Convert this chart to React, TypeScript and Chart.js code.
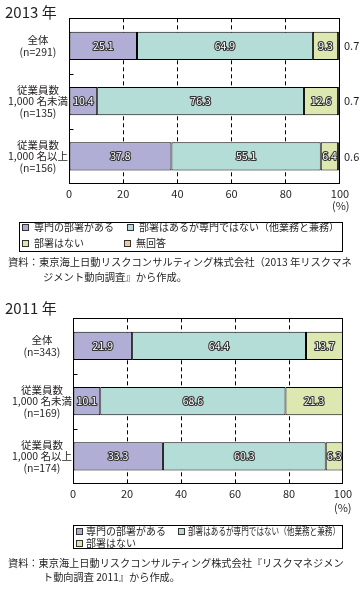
import React, { useEffect, useRef } from 'react';
import { Chart, registerables } from 'chart.js';

Chart.register(...registerables);

const FONT = "'Noto Sans CJK JP', 'Noto Sans', sans-serif";

// ---- data ----
const seriesNames = ['専門の部署がある', '部署はあるが専門ではない（他業務と兼務）', '部署はない', '無回答'];
const seriesColors = ['#b1aed6', '#b3ddd6', '#dde8b0', '#f9c88e'];
const xTicks = [0, 20, 40, 60, 80, 100];

const categories2013 = [
  ['全体', '(n=291)'],
  ['従業員数', '1,000 名未満', '(n=135)'],
  ['従業員数', '1,000 名以上', '(n=156)'],
];
const senmon2013 = [25.1, 10.4, 37.8];
const kenmu2013 = [64.9, 76.3, 55.1];
const nashi2013 = [9.3, 12.6, 6.4];
const mukaitou2013 = [0.7, 0.7, 0.6];

const categories2011 = [
  ['全体', '(n=343)'],
  ['従業員数', '1,000 名未満', '(n=169)'],
  ['従業員数', '1,000 名以上', '(n=174)'],
];
const senmon2011 = [21.9, 10.1, 33.3];
const kenmu2011 = [64.4, 68.6, 60.3];
const nashi2011 = [13.7, 21.3, 6.3];

type BarProps = {
  labels: string[][];
  series: number[][];
  top: number;
  height: number;
  padTop: number;
  padRight: number;
  yWidth: number;
  xHeight: number;
  outsideIndex: number;
};

function StackedBar(props: BarProps) {
  const ref = useRef<HTMLCanvasElement | null>(null);
  useEffect(() => {
    if (!ref.current) return;
    const { labels, series, padTop, padRight, yWidth, xHeight, outsideIndex } = props;

    const framePlugin = {
      id: 'frame',
      afterDatasetsDraw(chart: any) {
        const { ctx, chartArea } = chart;
        const l = Math.round(chartArea.left) + 0.5;
        const t = Math.round(chartArea.top) + 0.5;
        const r = Math.round(chartArea.right) - 0.5;
        const b = Math.round(chartArea.bottom) - 0.5;
        ctx.save();
        ctx.strokeStyle = '#000';
        ctx.lineWidth = 1;
        ctx.strokeRect(l, t, r - l, b - t);
        const yScale = chart.scales.y;
        ctx.beginPath();
        for (let i = 1; i < labels.length; i++) {
          const y = Math.round((yScale.getPixelForValue(i - 1) + yScale.getPixelForValue(i)) / 2) + 0.5;
          ctx.moveTo(l, y);
          ctx.lineTo(l + 4, y);
        }
        ctx.stroke();
        ctx.restore();
      },
    };

    const labelPlugin = {
      id: 'vals',
      afterDatasetsDraw(chart: any) {
        const ctx = chart.ctx;
        ctx.save();
        ctx.textBaseline = 'middle';
        chart.data.datasets.forEach((ds: any, di: number) => {
          const meta = chart.getDatasetMeta(di);
          meta.data.forEach((el: any, i: number) => {
            const v = ds.data[i];
            const txt = v.toFixed(1);
            if (di === outsideIndex) {
              ctx.font = `11px ${FONT}`;
              ctx.textAlign = 'left';
              ctx.fillStyle = '#231f20';
              ctx.fillText(txt, chart.chartArea.right + 4, el.y);
            } else {
              ctx.font = `10.5px ${FONT}`;
              ctx.textAlign = 'center';
              const x = (el.x + el.base) / 2;
              ctx.lineJoin = 'round';
              ctx.lineWidth = 2.2;
              ctx.strokeStyle = '#333';
              ctx.strokeText(txt, x, el.y);
              ctx.fillStyle = '#fff';
              ctx.fillText(txt, x, el.y);
            }
          });
        });
        ctx.restore();
      },
    };

    const chart = new Chart(ref.current, {
      type: 'bar',
      data: {
        labels: labels as any,
        datasets: series.map((d, i) => ({
          label: seriesNames[i],
          data: d,
          backgroundColor: seriesColors[i],
          borderColor: '#000',
          borderWidth: 1,
          borderSkipped: false,
          barPercentage: 0.51,
          categoryPercentage: 1,
        })),
      },
      options: {
        indexAxis: 'y',
        responsive: false,
        animation: false,
        layout: { padding: { top: padTop, right: padRight, left: 0, bottom: 0 } },
        plugins: { legend: { display: false }, tooltip: { enabled: false } },
        scales: {
          x: {
            stacked: true,
            min: 0,
            max: 100,
            afterBuildTicks: (s: any) => {
              s.ticks = xTicks.map((v) => ({ value: v }));
            },
            afterFit: (s: any) => {
              s.height = xHeight;
            },
            grid: {
              color: (c: any) =>
                c.tick && (c.tick.value === 0 || c.tick.value === 100) ? 'rgba(0,0,0,0)' : '#000',
              lineWidth: 1,
              drawTicks: false,
            },
            border: { display: false, dash: [4, 3] },
            ticks: { color: '#231f20', font: { family: FONT, size: 11 }, padding: 3, maxRotation: 0 },
          },
          y: {
            stacked: true,
            grid: { display: false, drawTicks: false },
            border: { display: false },
            afterFit: (s: any) => {
              s.width = yWidth;
            },
            ticks: {
              color: '#231f20',
              font: { family: FONT, size: 10.5, lineHeight: 1.1 },
              crossAlign: 'center',
              padding: 1,
            },
          },
        },
      } as any,
      plugins: [framePlugin, labelPlugin],
    });
    return () => chart.destroy();
  }, []);
  return (
    <canvas
      ref={ref}
      width={361}
      height={props.height}
      style={{ position: 'absolute', left: 0, top: props.top, width: 361, height: props.height }}
    />
  );
}

function Txt({ x, y, size, children, scaleX }: any) {
  return (
    <div
      style={{
        position: 'absolute',
        left: x,
        top: y - 8,
        height: 16,
        lineHeight: '16px',
        fontSize: size,
        whiteSpace: 'nowrap',
        color: '#231f20',
        transform: scaleX ? `scaleX(${scaleX})` : undefined,
        transformOrigin: 'left center',
      }}
    >
      {children}
    </div>
  );
}

function LegendItem({ x, y, color, text, size, textX, scaleX }: any) {
  return (
    <>
      <div
        style={{
          position: 'absolute',
          left: x,
          top: y - 3.5,
          width: 7,
          height: 7,
          boxSizing: 'border-box',
          border: '1px solid #333',
          background: color,
        }}
      />
      <Txt x={textX} y={y} size={size} scaleX={scaleX}>
        {text}
      </Txt>
    </>
  );
}

export default function App() {
  return (
    <div
      style={{
        position: 'fixed',
        left: 0,
        top: 0,
        width: 361,
        height: 593,
        background: '#fff',
        fontFamily: FONT,
        overflow: 'hidden',
      }}
    >
      <StackedBar
        labels={categories2013}
        series={[senmon2013, kenmu2013, nashi2013, mukaitou2013]}
        top={0}
        height={205}
        padTop={17}
        padRight={21}
        yWidth={69}
        xHeight={21}
        outsideIndex={3}
      />
      <StackedBar
        labels={categories2011}
        series={[senmon2011, kenmu2011, nashi2011]}
        top={300}
        height={205}
        padTop={18}
        padRight={18}
        yWidth={73}
        xHeight={21}
        outsideIndex={-1}
      />

      {/* 2013 */}
      <Txt x={5} y={12} size={15}>2013 年</Txt>
      <Txt x={332} y={205} size={11}>(%)</Txt>
      <div
        style={{
          position: 'absolute',
          left: 19,
          top: 222,
          width: 324,
          height: 30,
          boxSizing: 'border-box',
          border: '1px solid #000',
        }}
      />
      <LegendItem x={22} y={227} textX={34} color={seriesColors[0]} text={seriesNames[0]} size={10} />
      <LegendItem x={127} y={227} textX={139} color={seriesColors[1]} text={seriesNames[1]} size={10} />
      <LegendItem x={22} y={243} textX={34} color={seriesColors[2]} text={seriesNames[2]} size={10} />
      <LegendItem x={124} y={243} textX={136} color={seriesColors[3]} text={seriesNames[3]} size={10} />
      <Txt x={8} y={262} size={10.3}>資料：東京海上日動リスクコンサルティング株式会社（2013 年リスクマネ</Txt>
      <Txt x={43} y={277} size={10.3}>ジメント動向調査』から作成。</Txt>

      {/* 2011 */}
      <Txt x={5} y={308} size={15}>2011 年</Txt>
      <Txt x={334} y={507} size={11}>(%)</Txt>
      <div
        style={{
          position: 'absolute',
          left: 73,
          top: 525,
          width: 270,
          height: 24,
          boxSizing: 'border-box',
          border: '1px solid #000',
        }}
      />
      <LegendItem x={76} y={531} textX={86} color={seriesColors[0]} text={seriesNames[0]} size={10} />
      <LegendItem x={178} y={531} textX={188} color={seriesColors[1]} text={seriesNames[1]} size={10} scaleX={0.76} />
      <LegendItem x={76} y={543} textX={86} color={seriesColors[2]} text={seriesNames[2]} size={10} />
      <Txt x={8} y={563} size={10.2}>資料：東京海上日動リスクコンサルティング株式会社『リスクマネジメン</Txt>
      <Txt x={43} y={577} size={10.2}>ト動向調査 2011』から作成。</Txt>
    </div>
  );
}
